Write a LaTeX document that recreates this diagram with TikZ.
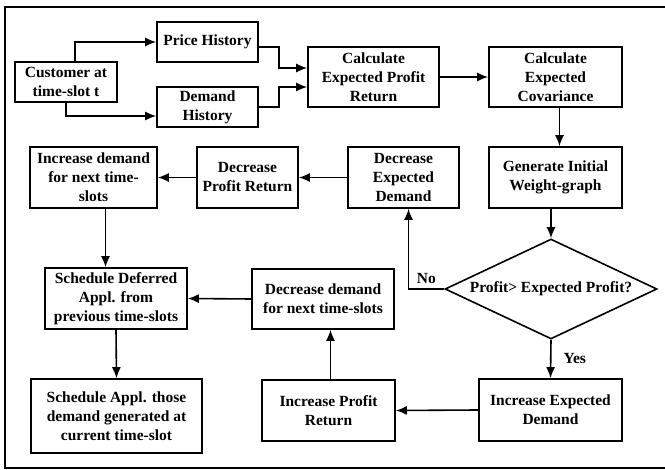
\documentclass[tikz,border=0pt]{standalone}
\usepackage{fontspec}
\setmainfont{Liberation Serif}
\usetikzlibrary{arrows.meta,shapes.geometric}
\begin{document}
\begin{tikzpicture}[x=1pt,y=-1pt,
    box/.style={draw, line width=1.6pt, align=center, inner sep=0pt,
      font=\fontsize{15.5}{19}\selectfont\bfseries},
    test/.style={box, diamond, shape aspect=2.1, minimum width=212, minimum height=100},
    arr/.style={line width=1.6pt, -{Latex[length=11pt,width=9pt]}},
    lbl/.style={inner sep=2pt, font=\fontsize{15.5}{19}\selectfont\bfseries}]
    \useasboundingbox (0,0) rectangle (665,470);
    \draw[line width=1.6pt] (665,7) -- (5,7) -- (5,468) -- (665,468);
    \node[box, minimum width=102, minimum height=40] (cust) at (66,82) {Customer at\\time-slot t};
    \node[box, minimum width=101, minimum height=40] (price) at (207.5,42) {Price History};
    \node[box, minimum width=101, minimum height=40] (dhist) at (207.5,107) {Demand\\History};
    \node[box, minimum width=131, minimum height=60] (calcp) at (373.5,77) {Calculate\\Expected Profit\\Return};
    \node[box, minimum width=133, minimum height=60] (calcc) at (555.5,77) {Calculate\\Expected\\Covariance};
    \node[box, minimum width=133, minimum height=61] (gen) at (555.5,177.5) {Generate Initial\\Weight-graph};
    \node[box, minimum width=111, minimum height=61] (dexp) at (403.5,177.5) {Decrease\\Expected\\Demand};
    \node[box, minimum width=101, minimum height=61] (dprof) at (247.5,177.5) {Decrease\\Profit Return};
    \node[box, minimum width=127, minimum height=61] (incnext) at (93.5,177.5) {Increase demand\\for next time-\\slots};
    \node[test] (chk) at (551,289) {Profit> Expected Profit?};
    \node[box, minimum width=142, minimum height=61] (sdef) at (116,298.5) {Schedule Deferred\\Appl. from\\previous time-slots};
    \node[box, minimum width=142, minimum height=60] (ddn) at (323,299) {Decrease demand\\for next time-slots};
    \node[box, minimum width=171, minimum height=74] (sapp) at (116.5,416) {Schedule Appl. those\\demand generated at\\current time-slot};
    \node[box, minimum width=133, minimum height=61] (iprof) at (328.5,410.5) {Increase Profit\\Return};
    \node[box, minimum width=143, minimum height=62] (iexp) at (550.5,410) {Increase Expected\\Demand};
    \draw[arr] ([xshift=9pt]cust.north) |- (price.west);
    \draw[arr] (cust.south) |- ([yshift=-9pt]dhist.west);
    \draw[arr] ([yshift=-5pt]price.east) -- ++(20,0) |- ([yshift=9pt]calcp.west);
    \draw[arr] (dhist.east) -- ++(20,0) |- ([yshift=-10pt]calcp.west);
    \draw[arr] (calcp) -- (calcc);
    \draw[arr] ([xshift=4pt]calcc.south) -- ([xshift=4pt]gen.north);
    \draw[arr] (chk.north |- gen.south) -- (chk.north);
    \draw[arr] (chk.west) -| ([xshift=5pt]dexp.south) node[lbl, pos=0.25, above=3pt] {No};
    \draw[arr] (chk.south) -- (iexp.north) node[lbl, midway, right=10pt] {Yes};
    \draw[arr] (iexp.west) -- (iprof.east);
    \draw[arr] ([xshift=2pt]iprof.north) -- ([xshift=2pt]iprof.north |- ddn.south);
    \draw[arr] (ddn.west) -- (sdef.east);
    \draw[arr] (dexp.west) -- (dprof.east);
    \draw[arr] (dprof.west) -- (incnext.east);
    \draw[arr] ([xshift=12pt]incnext.south) -- ([xshift=12pt]incnext.south |- sdef.north);
    \draw[arr] (sdef.south) -- (sapp.north);
\end{tikzpicture}
\end{document}
